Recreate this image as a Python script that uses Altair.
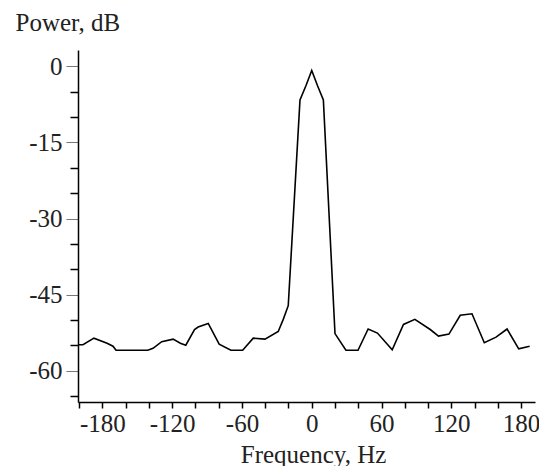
import altair as alt
import pandas as pd

freq = [-200.5, -196.7, -187.3, -176.0, -170.9, -168.3, -141.0, -136.5, -129.0, -119.2,
        -113.0, -108.3, -100.8, -97.7, -89.0, -79.6, -69.5, -59.4, -50.3, -40.2,
        -28.8, -24.5, -20.2, -10.1, -5.0, 0.0, 5.0, 10.0, 20.0, 29.4,
        39.8, 48.5, 56.5, 69.2, 78.9, 88.7, 101.9, 109.0, 118.0, 127.7,
        137.8, 148.4, 158.5, 168.0, 178.0, 187.4]
power = [-54.9, -54.9, -53.6, -54.6, -55.2, -56.0, -56.0, -55.6, -54.3, -53.8,
         -54.6, -55.0, -51.9, -51.4, -50.7, -54.8, -56.0, -56.0, -53.6, -53.8,
         -52.3, -49.9, -47.2, -6.6, -3.8, -0.8, -3.8, -6.6, -52.7, -56.0,
         -56.0, -51.8, -52.6, -55.9, -50.9, -49.9, -51.9, -53.2, -52.8, -49.1,
         -48.8, -54.5, -53.4, -51.8, -55.7, -55.2]

x_ticks = list(range(-200, 181, 20))
y_ticks = list(range(-65, 1, 5))

df = pd.DataFrame({"f": freq, "p": power})

FONT = "Liberation Serif"
FS = 25

x_axis = alt.Axis(
    values=x_ticks,
    labelExpr="datum.value % 60 === 0 ? toString(datum.value) : ''",
    grid=False,
    domainColor="black",
    domainWidth=1.5,
    tickColor="black",
    tickWidth=1.5,
    tickSize=6,
    labelFont=FONT,
    labelFontSize=FS,
    labelColor="#222222",
    labelPadding=3,
    labelFlush=False,
    labelOverlap=False,
    title="Frequency, Hz",
    titleFont=FONT,
    titleFontSize=FS,
    titleFontWeight="normal",
    titleColor="#222222",
    titleX=235,
    titleY=60,
    titleBaseline="alphabetic",
    titleAlign="center",
)

y_axis = alt.Axis(
    values=y_ticks,
    labelExpr="datum.value % 15 === 0 ? toString(datum.value) : ''",
    grid=False,
    domainColor="black",
    domainWidth=1.5,
    tickColor={"condition": {"test": "datum.value % 15 === 0", "value": "#777777"}, "value": "black"},
    tickWidth={"condition": {"test": "datum.value % 15 === 0", "value": 1}, "value": 1.5},
    tickSize={"condition": {"test": "datum.value % 15 === 0", "value": 12}, "value": 8},
    labelFont=FONT,
    labelFontSize=FS,
    labelColor="#222222",
    labelPadding=4,
    labelFlush=False,
    labelOverlap=False,
    title="Power, dB",
    titleFont=FONT,
    titleFontSize=FS,
    titleFontWeight="normal",
    titleColor="#222222",
    titleAngle=0,
    titleX=-63,
    titleY=-20,
    titleAlign="left",
    titleBaseline="alphabetic",
)

chart = alt.Chart(df).mark_line(color="black", strokeWidth=1.6).encode(
    x=alt.X("f:Q", scale=alt.Scale(domain=[-201, 192], nice=False, zero=False), axis=x_axis),
    y=alt.Y("p:Q", scale=alt.Scale(domain=[-66.2, 3.25], nice=False, zero=False), axis=y_axis),
    order="f:Q",
).properties(
    width=457,
    height=352,
    autosize=alt.AutoSizeParams(type="none"),
    padding={"left": 70, "top": 42, "right": 4, "bottom": 64},
    background="white",
).configure_view(stroke=None)

chart.save("out.html", embed_options={"renderer": "svg", "actions": False})
